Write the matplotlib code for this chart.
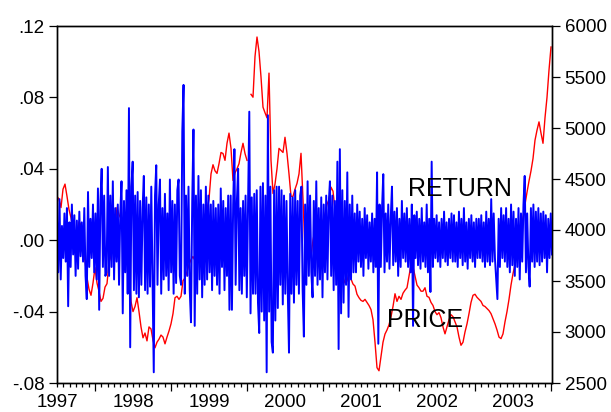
import numpy as np
import matplotlib
matplotlib.use("Agg")
import matplotlib.pyplot as plt

plt.rcParams['font.family'] = ['Liberation Sans', 'DejaVu Sans']

# stock index level, sampled roughly every 7 trading days, Jan 1997 - Jul 2003
price = [
    4330, 4300, 4220, 4400, 4450, 4330, 4200, 4120, 4024, 3950,
    3920, 4080, 4050, 3800, 3700, 3533, 3420, 3360, 3480, 3631,
    3480, 3400, 3300, 3330, 3440, 3474, 3680, 3750, 3850, 4000,
    4221, 4150, 4110, 4060, 4000, 3926, 3600, 3300, 3200, 3250,
    3336, 3200, 3050, 2943, 2990, 2913, 3050, 3030, 2920, 2845,
    2900, 2930, 2970, 2950, 2884, 2950, 3010, 3080, 3180, 3336,
    3350, 3320, 3350, 3503, 3530, 3590, 3660, 3710, 3740, 3700,
    3750, 3840, 3960, 4093, 4150, 4200, 4300, 4550, 4640, 4580,
    4555, 4650, 4760, 4750, 4683, 4850, 4950, 4800, 4486, 4560,
    4600, 4650, 4760, 4850, 4750, 4683, np.nan, 5330, 5302, 5700,
    5892, 5750, 5500, 5204, 5150, 5100, 5538, 4683, 4358, 4450,
    4600, 4800, 4780, 4760, 4909, 4750, 4550, 4330, 4330, 4400,
    4457, 4550, 4752, 4300, 3800, 3850, 3770, 3750, 3900, 4000,
    4050, 4100, 4000, 4093, 4150, 4250, 4300, 4420, 4380, 4200,
    3900, 3650, 3550, 3540, 3480, 3500, 3580, 3520, 3470, 3450,
    3370, 3336, 3310, 3300, 3320, 3290, 3260, 3220, 3120, 2900,
    2650, 2620, 2760, 2900, 2980, 3020, 3070, 3150, 3250, 3375,
    3300, 3350, 3320, 3380, 3410, 3434, 3550, 3660, 3640, 3550,
    3460, 3434, 3400, 3400, 3434, 3350, 3340, 3290, 3260, 3200,
    3170, 3190, 3140, 3050, 2982, 3050, 3120, 3170, 3150, 3100,
    3050, 2950, 2870, 2900, 3000, 3080, 3180, 3290, 3360, 3370,
    3340, 3320, 3300, 3260, 3250, 3230, 3210, 3180, 3130, 3080,
    3020, 2950, 2935, 2982, 3100, 3200, 3320, 3460, 3572, 3660,
    3760, 3860, 3950, 4122, 4250, 4370, 4480, 4580, 4700, 4880,
    4978, 5060, 4950, 4850, 5100, 5300, 5567, 5794,
]

# log returns, same period
ret = [
    0.012, -0.018, 0.023, -0.022, 0.008, -0.010, 0.015, -0.012, 0.018, -0.037,
    0.010, -0.015, 0.020, -0.008, 0.014, -0.020, 0.011, -0.016, 0.016, -0.009,
    0.010, -0.012, 0.018, -0.020, -0.033, 0.027, -0.015, 0.012, -0.010, 0.020,
    -0.018, 0.015, -0.022, 0.029, -0.039, 0.022, 0.040, -0.015, 0.025, -0.020,
    -0.018, 0.041, -0.020, 0.025, -0.015, 0.033, -0.022, 0.018, -0.012, 0.020,
    -0.025, 0.015, 0.033, -0.041, 0.022, -0.018, 0.028, -0.030, 0.074, -0.060,
    0.030, 0.044, -0.028, 0.025, -0.030, 0.027, -0.032, 0.022, -0.025, 0.018,
    0.036, -0.028, 0.024, -0.030, 0.020, -0.026, 0.030, -0.022, -0.074, 0.025,
    0.042, -0.025, 0.020, 0.034, -0.030, 0.018, -0.022, 0.026, -0.020, 0.015,
    -0.028, 0.034, -0.018, 0.022, -0.030, 0.020, -0.024, 0.028, 0.034, -0.020,
    -0.025, 0.061, 0.087, -0.030, 0.025, -0.020, 0.030, -0.028, -0.046, 0.022,
    0.062, -0.048, 0.025, -0.030, 0.036, -0.022, 0.028, -0.032, 0.020, -0.025,
    0.030, -0.022, 0.025, -0.018, 0.020, -0.028, 0.022, -0.020, 0.018, -0.025,
    0.020, -0.030, 0.029, -0.015, 0.022, -0.028, 0.018, -0.020, 0.025, -0.039,
    0.025, -0.039, 0.020, 0.051, -0.025, 0.022, 0.040, -0.028, 0.018, -0.030,
    0.022, -0.020, 0.025, -0.032, 0.020, 0.072, -0.041, 0.024, -0.030, 0.026,
    -0.030, 0.028, -0.035, -0.052, 0.030, -0.040, 0.032, -0.045, 0.025, -0.074,
    0.070, -0.040, 0.030, -0.057, -0.063, 0.028, -0.045, 0.030, -0.038, 0.030,
    -0.025, 0.028, -0.036, 0.025, -0.030, 0.022, -0.028, -0.063, 0.026, -0.030,
    0.024, -0.035, 0.028, -0.025, 0.022, -0.030, 0.025, 0.030, -0.028, -0.054,
    0.020, -0.025, 0.033, -0.020, 0.025, -0.018, -0.032, 0.022, -0.020, 0.033,
    -0.025, 0.018, -0.022, 0.024, -0.032, 0.020, -0.018, 0.025, -0.022, 0.020,
    0.033, -0.020, 0.025, -0.028, 0.022, -0.025, 0.044, -0.061, 0.051, -0.041,
    0.028, -0.035, 0.022, -0.025, 0.038, -0.043, 0.020, -0.022, 0.025, -0.018,
    0.015, -0.018, 0.020, -0.012, 0.016, -0.015, 0.012, -0.020, 0.018, -0.010,
    0.014, -0.016, 0.010, -0.012, 0.015, -0.018, 0.012, -0.015, 0.038, -0.058,
    0.020, -0.015, 0.018, 0.037, -0.018, 0.015, -0.012, 0.020, -0.016, 0.012,
    0.030, -0.014, 0.016, -0.012, 0.018, -0.020, 0.012, -0.015, 0.022, -0.010,
    0.015, -0.012, 0.018, -0.015, 0.012, -0.018, 0.020, -0.048, 0.014, -0.010,
    0.016, -0.014, 0.012, -0.016, 0.018, -0.012, 0.010, -0.015, 0.020, -0.018,
    0.012, -0.029, 0.044, -0.015, 0.012, -0.010, 0.014, -0.012, 0.010, -0.015,
    0.012, -0.010, 0.016, -0.012, 0.010, -0.014, 0.012, -0.010, 0.015, -0.012,
    0.014, -0.012, 0.010, -0.015, 0.016, -0.010, 0.012, -0.014, 0.018, -0.012,
    0.010, -0.016, 0.012, -0.010, 0.014, -0.012, 0.010, -0.015, 0.012, -0.010,
    0.012, -0.010, 0.014, -0.012, 0.010, -0.015, 0.016, -0.012, 0.012, -0.014,
    0.023, -0.012, 0.015, -0.010, -0.022, -0.033, 0.012, -0.015, 0.018, -0.010,
    0.014, -0.012, 0.018, -0.015, 0.012, -0.018, 0.020, -0.014, 0.016, -0.020,
    0.012, -0.015, 0.018, -0.022, 0.015, -0.012, 0.020, 0.036, -0.018, 0.015,
    -0.015, -0.026, 0.018, -0.012, 0.020, -0.015, 0.016, -0.012, 0.018, -0.014,
    0.015, -0.012, 0.016, -0.010, 0.014, -0.018, 0.012, -0.010, 0.015, -0.008,
]

years = [1997, 1998, 1999, 2000, 2001, 2002, 2003]
ret_ticks = [-0.08, -0.04, 0.00, 0.04, 0.08, 0.12]
ret_labels = ['-.08', '-.04', '.00', '.04', '.08', '.12']
price_ticks = [2500, 3000, 3500, 4000, 4500, 5000, 5500, 6000]

t_end = 1997 + 495 / 76
t_price = np.linspace(1997.0, 2003.5, len(price))
t_ret = np.linspace(1997.0, t_end, len(ret))

fig = plt.figure(figsize=(6.11, 4.12), dpi=100)
ax = fig.add_axes([57 / 611, 1 - 383 / 412, 495 / 611, 357 / 412])
ax2 = ax.twinx()

# price sits on the right-hand scale and is drawn underneath the returns
ax.plot(t_price, price, color='#ff0000', lw=1.0)
ax.set_ylim(2500, 6000)
ax.set_yticks(price_ticks)
ax.yaxis.tick_right()
ax.yaxis.set_label_position('right')
ax.tick_params(axis='y', direction='out', length=5.5, width=0.9, pad=3.5,
               labelsize=13.5, left=False, labelleft=False,
               right=True, labelright=True)

ax.set_xlim(1997.0, t_end)
ax.set_xticks([y + 0.5 for y in years])
ax.set_xticklabels([])
ax.set_xticks(np.arange(1997.0, t_end, 1 / 12), minor=True)
ax.tick_params(axis='x', which='major', direction='out', length=5.5, width=0.9)
ax.tick_params(axis='x', which='minor', direction='out', length=3, width=0.9)

# year labels sit at the start of each year, without a tick of their own
lab = ax.secondary_xaxis('bottom')
lab.set_xticks(years)
lab.set_xticklabels([str(y) for y in years])
lab.tick_params(length=0, pad=8, labelsize=13.5)
lab.spines['bottom'].set_visible(False)

ax2.plot(t_ret, ret, color='#0000ff', lw=1.4)
ax2.set_ylim(-0.08, 0.12)
ax2.set_yticks(ret_ticks)
ax2.set_yticklabels(ret_labels)
ax2.tick_params(axis='y', direction='out', length=5.5, width=0.9, pad=3.5,
                labelsize=13.5, left=True, labelleft=True,
                right=False, labelright=False)

for a in (ax, ax2):
    for s in a.spines.values():
        s.set_linewidth(1.0)
        s.set_color('black')

ax2.text(2001.62, 0.0248, 'RETURN', fontsize=18, ha='left', va='baseline', zorder=5)
ax2.text(2001.34, -0.0484, 'PRICE', fontsize=18, ha='left', va='baseline', zorder=5)

fig.savefig('out.png', dpi=100)
